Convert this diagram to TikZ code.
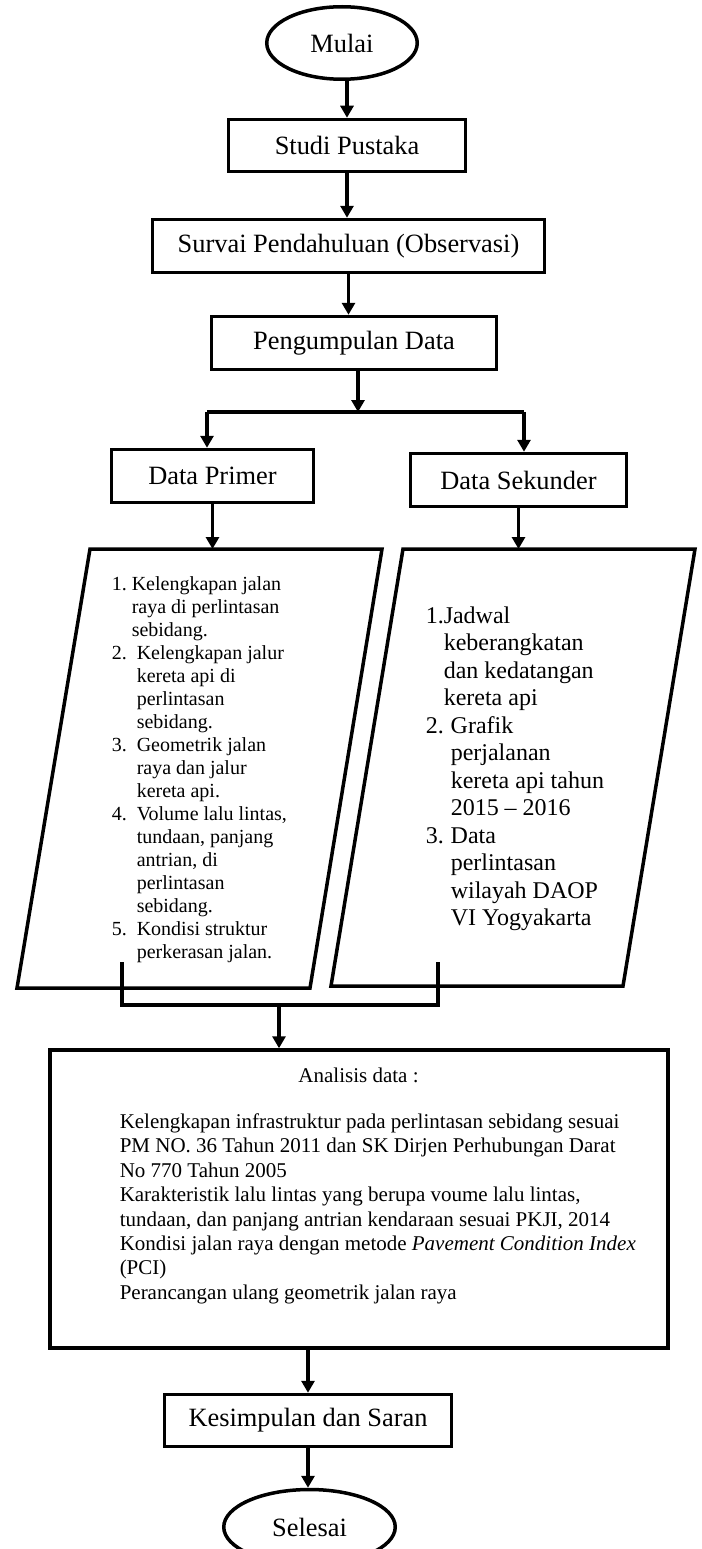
\documentclass[tikz,border=0pt]{standalone}
\usepackage{fontspec}
\setmainfont{Liberation Serif}
\usetikzlibrary{arrows.meta}
\usetikzlibrary{shapes}

\begin{document}
\begin{tikzpicture}[x=1pt,y=-1pt,line width=3.5pt,>={Triangle[length=12pt,width=13pt]},
  kotak/.style={draw,rectangle,inner sep=0pt,minimum height=53pt,font=\fontsize{26.4}{30}\selectfont},
  oval/.style={draw,ellipse,inner sep=0pt,font=\fontsize{26.4}{30}\selectfont},
  daftar/.style={anchor=west,inner sep=0pt}]
  \useasboundingbox (0,0) rectangle (701,1549);

  \node[oval,minimum width=150.5pt,minimum height=72.5pt] (mulai) at (342,43) {Mulai};
  \node[kotak,minimum width=237pt,minimum height=52pt] (studi) at (347,145.5) {Studi Pustaka};
  \node[kotak,minimum width=392pt] (survai) at (348.5,246) {Survai Pendahuluan (Observasi)};
  \node[kotak,minimum width=285pt] (kumpul) at (354,343) {Pengumpulan Data};
  \node[kotak,minimum width=202pt] (primer) at (212.5,476) {Data Primer};
  \node[kotak,minimum width=216pt] (sekunder) at (518.5,480) {Data Sekunder};

  \coordinate (pk1) at (90,549);
  \coordinate (pk2) at (382,549);
  \coordinate (pk3) at (310,988);
  \coordinate (pk4) at (17,988);
  \draw (pk1) -- (pk2) -- (pk3) -- (pk4) -- cycle;
  \coordinate (ps1) at (403,549);
  \coordinate (ps2) at (695,549);
  \coordinate (ps3) at (623,986);
  \coordinate (ps4) at (331,986);
  \draw (ps1) -- (ps2) -- (ps3) -- (ps4) -- cycle;

  \node[daftar,font=\fontsize{20}{23}\selectfont] (isiPrimer) at (110,769.7) {%
    \begin{tabular}{@{}l@{}l@{}}
    \makebox[25pt][l]{1.} & \hspace*{-5pt}Kelengkapan jalan\\
      & \hspace*{-5pt}raya di perlintasan\\
      & \hspace*{-5pt}sebidang.\\
    \makebox[25pt][l]{2.} & Kelengkapan jalur\\
      & kereta api di\\
      & perlintasan\\
      & sebidang.\\
    \makebox[25pt][l]{3.} & Geometrik jalan\\
      & raya dan jalur\\
      & kereta api.\\
    \makebox[25pt][l]{4.} & Volume lalu lintas,\\
      & tundaan, panjang\\
      & antrian, di\\
      & perlintasan\\
      & sebidang.\\
    \makebox[25pt][l]{5.} & Kondisi struktur\\
      & perkerasan jalan.
    \end{tabular}};
  \node[daftar,font=\fontsize{24}{27.5}\selectfont] (isiSekunder) at (424,769) {%
    \begin{tabular}{@{}l@{}l@{}}
    \makebox[25pt][l]{1.} & \hspace*{-7pt}Jadwal\\
      & \hspace*{-7pt}keberangkatan\\
      & \hspace*{-7pt}dan kedatangan\\
      & \hspace*{-7pt}kereta api\\
    \makebox[25pt][l]{2.} & Grafik\\
      & perjalanan\\
      & kereta api tahun\\
      & 2015 -- 2016\\
    \makebox[25pt][l]{3.} & Data\\
      & perlintasan\\
      & wilayah DAOP\\
      & VI Yogyakarta
    \end{tabular}};

  \node[draw,rectangle,inner sep=0pt,minimum width=618pt,minimum height=298pt] (analisis) at (359,1199) {};
  \node[font=\fontsize{21}{24.4}\selectfont] (judul) at (358.5,1075) {Analisis data :};
  \node[anchor=north west,inner sep=0pt,align=left,font=\fontsize{21}{24.4}\selectfont] (isiAnalisis) at (118,1112) {%
    Kelengkapan infrastruktur pada perlintasan sebidang sesuai\\
    PM NO. 36 Tahun 2011 dan SK Dirjen Perhubungan Darat\\
    No 770 Tahun 2005\\
    Karakteristik lalu lintas yang berupa voume lalu lintas,\\
    tundaan, dan panjang antrian kendaraan sesuai PKJI, 2014\\
    Kondisi jalan raya dengan metode \textit{Pavement Condition Index}\\
    (PCI)\\
    Perancangan ulang geometrik jalan raya};
  \node[kotak,minimum width=287pt,minimum height=52pt] (kesimpulan) at (308,1420.5) {Kesimpulan dan Saran};
  \node[oval,minimum width=171.5pt,minimum height=75pt] (selesai) at (309.5,1527) {Selesai};

  \coordinate (cabang) at (358,412);
  \coordinate (kiri) at (207,412);
  \coordinate (kanan) at (524,412);
  \coordinate (gk1) at (122,962);
  \coordinate (gk2) at (122,1005);
  \coordinate (gk3) at (438,1005);
  \coordinate (gk4) at (438,962);
  \coordinate (gabung) at (279,1005);

  \draw[->] (mulai.south -| studi.north) -- (studi.north);
  \draw[->] (studi.south) -- (studi.south |- survai.north);
  \draw[->] (survai.south) -- (survai.south |- kumpul.north);
  \draw[->] (cabang |- kumpul.south) -- (cabang);
  \draw (kiri) -- (kanan);
  \draw[->] (kiri) -- (kiri |- primer.north);
  \draw[->] (kanan) -- (kanan |- sekunder.north);
  \draw[->] (primer.south) -- (primer.south |- pk1);
  \draw[->] (sekunder.south) -- (sekunder.south |- ps1);
  \draw (gk1) -- (gk2) -- (gk3) -- (gk4);
  \draw[->] (gabung) -- (gabung |- analisis.north);
  \draw[->] (kesimpulan.north |- analisis.south) -- (kesimpulan.north);
  \draw[->] (kesimpulan.south) -- (kesimpulan.south |- selesai.north);
\end{tikzpicture}
\end{document}
